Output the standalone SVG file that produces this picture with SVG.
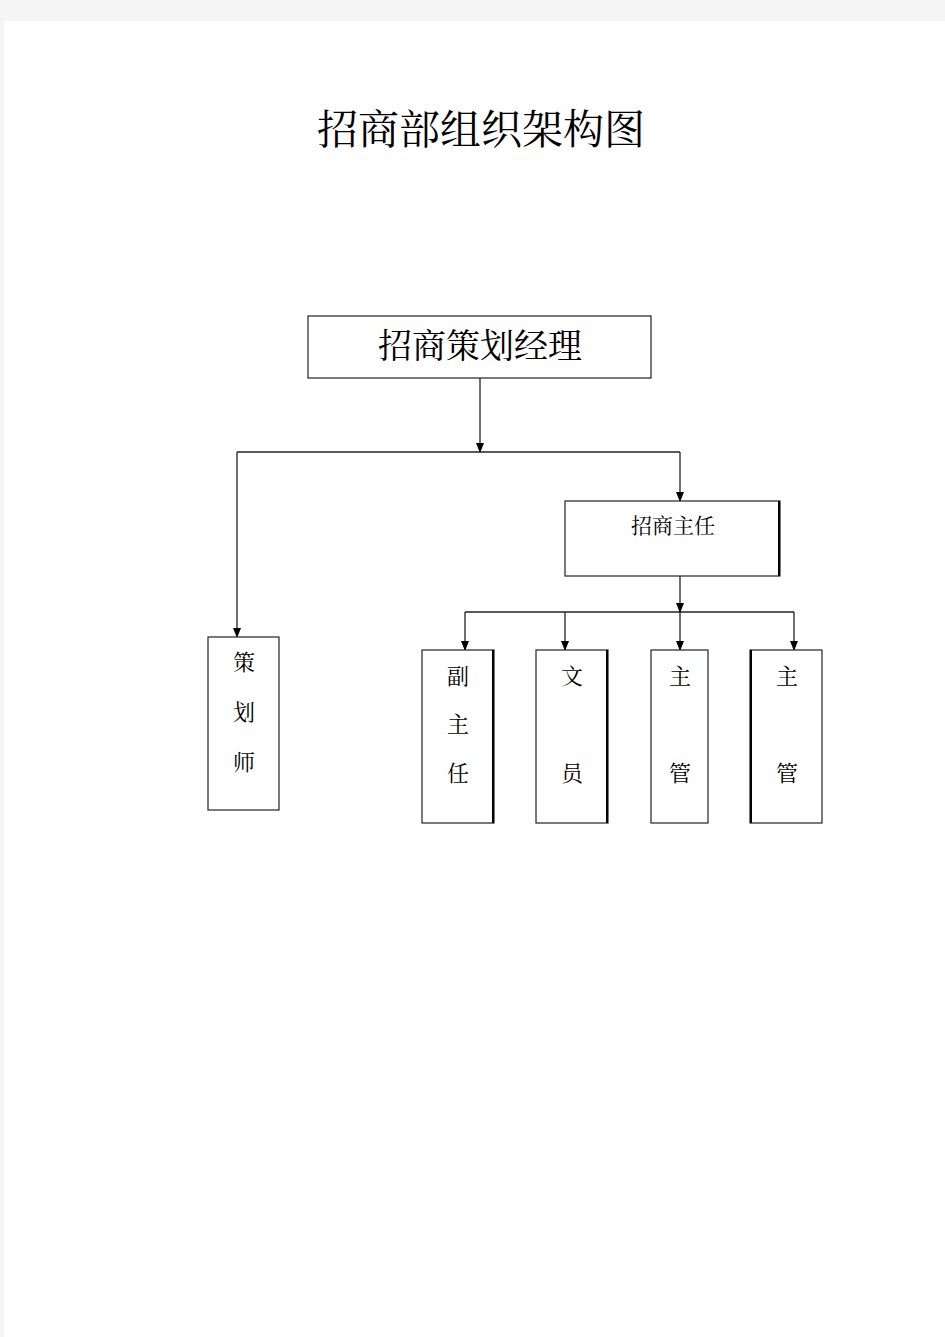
<svg xmlns="http://www.w3.org/2000/svg" width="945" height="1337" viewBox="0 0 945 1337">
<defs>
<style>
.t{font-family:"Noto Serif CJK SC","Liberation Serif","Noto Sans CJK SC",serif;fill:#000;text-anchor:middle}
.box{fill:#fff;stroke:#222;stroke-width:1.2}
.edge{stroke:#000;stroke-width:2;fill:none}
.ln{stroke:#222;stroke-width:1.3;fill:none}
</style>
<marker id="ah" markerWidth="10" markerHeight="10" refX="9" refY="5" orient="auto" markerUnits="userSpaceOnUse">
<path d="M0,1 L10,5 L0,9 Z" fill="#000"/>
</marker>
</defs>
<rect x="0" y="0" width="945" height="1337" fill="#f5f5f5"/>
<rect x="4" y="21" width="941" height="1316" fill="#fff"/>
<text class="t" x="481" y="144" font-size="41">招商部组织架构图</text>

<g id="connectors">
<line class="ln" x1="480" y1="378" x2="480" y2="452" marker-end="url(#ah)"/>
<polyline class="ln" points="237,452 680,452"/>
<line class="ln" x1="237" y1="452" x2="237" y2="637" marker-end="url(#ah)"/>
<line class="ln" x1="680" y1="452" x2="680" y2="501" marker-end="url(#ah)"/>
<line class="ln" x1="680" y1="576" x2="680" y2="612" marker-end="url(#ah)"/>
<polyline class="ln" points="465,612 794,612"/>
<line class="ln" x1="465" y1="612" x2="465" y2="650" marker-end="url(#ah)"/>
<line class="ln" x1="565" y1="612" x2="565" y2="650" marker-end="url(#ah)"/>
<line class="ln" x1="680" y1="612" x2="680" y2="650" marker-end="url(#ah)"/>
<line class="ln" x1="794" y1="612" x2="794" y2="650" marker-end="url(#ah)"/>
</g>

<g id="n-manager">
<rect class="box" x="308" y="316" width="343" height="62"/>
<text class="t" x="480" y="358" font-size="34">招商策划经理</text>
</g>

<g id="n-director">
<rect class="box" x="565" y="501" width="215" height="75"/>
<line class="edge" x1="779" y1="501" x2="779" y2="576"/>
<text class="t" x="673" y="533" font-size="21">招商主任</text>
</g>

<g id="n-planner">
<rect class="box" x="208" y="637" width="71" height="173"/>
<text class="t" x="244" y="670" font-size="22">策</text>
<text class="t" x="244" y="720" font-size="22">划</text>
<text class="t" x="244" y="770" font-size="22">师</text>
</g>

<g id="n-deputy">
<rect class="box" x="422" y="650" width="72" height="173"/>
<line class="edge" x1="493" y1="650" x2="493" y2="823"/>
<text class="t" x="458" y="684" font-size="22">副</text>
<text class="t" x="458" y="732" font-size="22">主</text>
<text class="t" x="458" y="781" font-size="22">任</text>
</g>

<g id="n-clerk">
<rect class="box" x="536" y="650" width="72" height="173"/>
<line class="edge" x1="607" y1="650" x2="607" y2="823"/>
<text class="t" x="572" y="684" font-size="22">文</text>
<text class="t" x="572" y="781" font-size="22">员</text>
</g>

<g id="n-super1">
<rect class="box" x="651" y="650" width="57" height="173"/>
<text class="t" x="680" y="684" font-size="22">主</text>
<text class="t" x="680" y="781" font-size="22">管</text>
</g>

<g id="n-super2">
<rect class="box" x="750" y="650" width="72" height="173"/>
<line class="edge" x1="751" y1="650" x2="751" y2="823"/>
<text class="t" x="787" y="684" font-size="22">主</text>
<text class="t" x="787" y="781" font-size="22">管</text>
</g>
</svg>
